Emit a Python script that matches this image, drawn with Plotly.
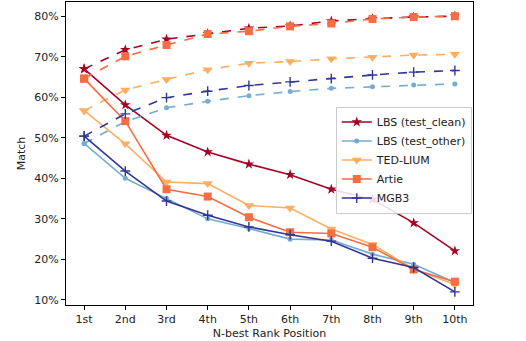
import plotly.graph_objects as go

ranks = ['1st', '2nd', '3rd', '4th', '5th', '6th', '7th', '8th', '9th', '10th']
x_pos = list(range(1, 11))
y_ticks = [10, 20, 30, 40, 50, 60, 70, 80]
y_labels = ['10%', '20%', '30%', '40%', '50%', '60%', '70%', '80%']

# solid: match at exactly rank N, dashed: cumulative match up to rank N
clean_solid = [67.0, 58.1, 50.6, 46.5, 43.5, 40.9, 37.3, 34.8, 29.0, 22.1]
clean_dash = [67.0, 71.7, 74.3, 75.7, 77.0, 77.6, 78.8, 79.4, 79.8, 80.0]
other_solid = [48.6, 40.0, 35.0, 30.0, 27.6, 25.0, 24.8, 21.3, 18.8, 14.3]
other_dash = [48.6, 54.0, 57.4, 59.0, 60.4, 61.4, 62.2, 62.6, 63.0, 63.3]
ted_solid = [56.7, 48.5, 39.1, 38.7, 33.3, 32.7, 27.5, 23.7, 17.6, 13.8]
ted_dash = [56.7, 61.8, 64.4, 66.8, 68.4, 68.8, 69.5, 69.9, 70.4, 70.6]
artie_solid = [64.6, 54.1, 37.3, 35.5, 30.4, 26.7, 26.4, 23.0, 17.5, 14.5]
artie_dash = [64.6, 70.1, 72.9, 75.6, 76.3, 77.5, 78.2, 79.3, 79.8, 80.0]
mgb_solid = [50.4, 41.8, 34.4, 30.9, 28.0, 26.1, 24.5, 20.3, 18.0, 12.0]
mgb_dash = [50.4, 55.9, 59.9, 61.5, 62.9, 63.8, 64.6, 65.5, 66.2, 66.6]

series = [
    ('LBS (test_clean)', clean_solid, clean_dash, '#a50026', 'star', 8),
    ('LBS (test_other)', other_solid, other_dash, '#74add1', 'circle', 5),
    ('TED-LIUM', ted_solid, ted_dash, '#fdae61', 'triangle-down', 9),
    ('Artie', artie_solid, artie_dash, '#f46d43', 'square', 8),
    ('MGB3', mgb_solid, mgb_dash, '#313695', 'cross-thin-open', 7),
]

fig = go.Figure()

for name, solid, dash, color, symbol, size in series:
    marker = dict(symbol=symbol, size=size, color=color,
                  line=dict(color=color, width=1.4 if symbol.startswith('cross') else 0))
    fig.add_trace(go.Scatter(
        x=x_pos, y=dash, mode='lines+markers', name=name,
        line=dict(color=color, width=1.6, dash='dash'),
        marker=marker, showlegend=False
    ))
    fig.add_trace(go.Scatter(
        x=x_pos, y=solid, mode='lines+markers', name=name,
        line=dict(color=color, width=1.6),
        marker=marker
    ))

fig.update_layout(
    width=526, height=341,
    margin=dict(l=66, r=53, t=2, b=36),
    paper_bgcolor='white',
    plot_bgcolor='white',
    font=dict(family='DejaVu Sans', size=11, color='#222222'),
    legend=dict(
        x=0.997, xanchor='right', y=0.655, yanchor='top',
        bgcolor='rgba(255,255,255,0.85)', bordercolor='#cccccc', borderwidth=1,
        font=dict(size=11), itemwidth=30, tracegroupgap=0
    )
)

fig.update_xaxes(
    range=[0.56, 10.44], tickmode='array', tickvals=x_pos, ticktext=ranks,
    showgrid=False, zeroline=False, showline=True, linecolor='black', linewidth=1,
    mirror=True, ticks='outside', ticklen=4, tickcolor='black',
    title=dict(text='N-best Rank Position', standoff=4, font=dict(size=11))
)
fig.update_yaxes(
    range=[8.75, 83.5], tickmode='array', tickvals=y_ticks, ticktext=y_labels,
    showgrid=False, zeroline=False, showline=True,
    linecolor='black', linewidth=1, mirror=True, ticks='outside', ticklen=4,
    tickcolor='black', title=dict(text='Match', standoff=6, font=dict(size=11))
)

fig.write_html('out.html', config={'displayModeBar': False},
               post_script="document.body.style.margin='0';")
